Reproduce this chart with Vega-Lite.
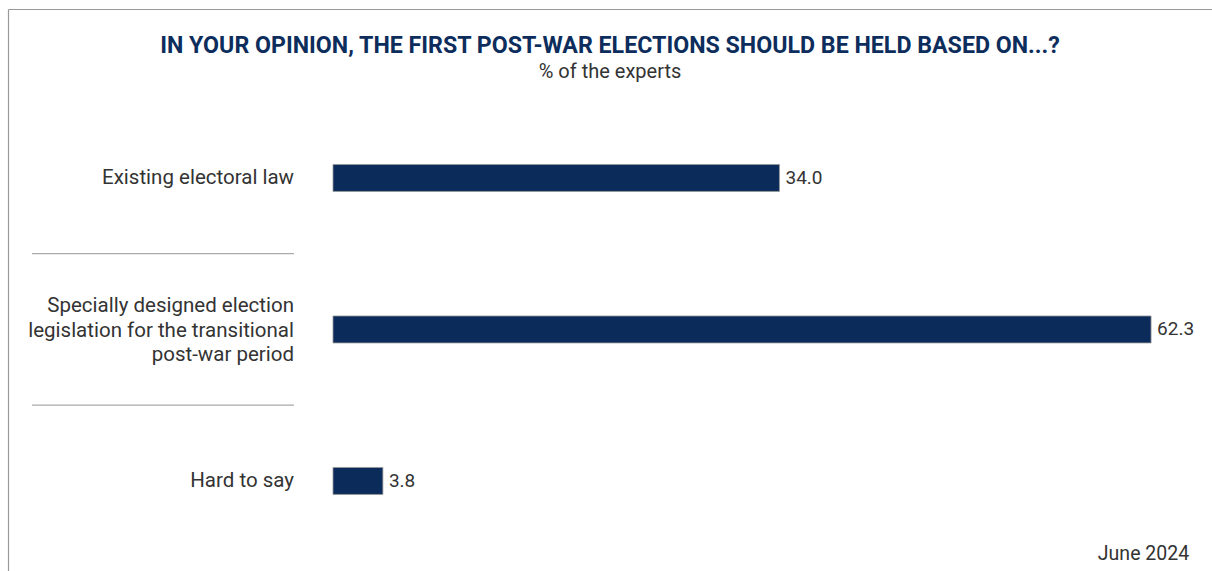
{
  "$schema": "https://vega.github.io/schema/vega-lite/v6.json",
  "width": 1204,
  "height": 562,
  "autosize": "none",
  "padding": {"left": 8, "top": 9, "right": 0, "bottom": 0},
  "background": "white",
  "config": {"view": {"stroke": null}, "font": "Roboto"},
  "title": {
    "text": "IN YOUR OPINION, THE FIRST POST-WAR ELECTIONS SHOULD BE HELD BASED ON...?",
    "subtitle": "% of the experts",
    "anchor": "middle",
    "frame": "group",
    "offset": -74,
    "font": "Roboto",
    "fontSize": 23.2,
    "fontWeight": "bold",
    "color": "#0d2d5c",
    "subtitleFont": "Roboto",
    "subtitleFontSize": 20,
    "subtitleColor": "#333333",
    "subtitlePadding": 4
  },
  "datasets": {
    "bars": [
      {"cat": "Existing electoral law", "value": 34.0, "label": "Existing electoral law", "lines": 1},
      {"cat": "Specially designed election legislation for the transitional post-war period", "value": 62.3, "label": "Specially designed election|legislation for the transitional|post-war period", "lines": 3},
      {"cat": "Hard to say", "value": 3.8, "label": "Hard to say", "lines": 1}
    ],
    "seps": [
      {"cat": "Specially designed election legislation for the transitional post-war period", "x1": -22.92, "x2": -2.97},
      {"cat": "Hard to say", "x1": -22.92, "x2": -2.97}
    ],
    "note": [
      {"cat": "Hard to say", "pos": 65.2, "text": "June 2024"}
    ]
  },
  "layer": [
    {
      "data": {"name": "bars"},
      "mark": {"type": "bar", "height": 27, "color": "#0b2c5a", "stroke": "#9a9a9a", "strokeWidth": 0.8},
      "encoding": {
        "y": {
          "field": "cat", "type": "nominal", "sort": null,
          "scale": {"paddingInner": 0, "paddingOuter": 0.3548, "align": 0.867},
          "axis": {"title": null, "labels": false, "ticks": false, "domain": true, "domainColor": "#999999", "domainWidth": 1.2}
        },
        "x": {
          "field": "value", "type": "quantitative",
          "scale": {"domain": [-24.75, 66.94], "nice": false, "zero": false},
          "axis": {"orient": "top", "title": null, "labels": false, "ticks": false, "grid": false, "domain": true, "domainColor": "#999999", "domainWidth": 1.2}
        },
        "x2": {"datum": 0}
      }
    },
    {
      "data": {"name": "bars"},
      "mark": {"type": "text", "align": "left", "baseline": "middle", "dx": 6, "fontSize": 19, "color": "#333333", "font": "Roboto"},
      "encoding": {
        "y": {"field": "cat", "type": "nominal", "sort": null},
        "x": {"field": "value", "type": "quantitative"},
        "text": {"field": "value", "type": "quantitative", "format": ".1f"}
      }
    },
    {
      "data": {"name": "bars"},
      "transform": [{"filter": "datum.lines == 1"}],
      "mark": {"type": "text", "align": "right", "baseline": "middle", "fontSize": 20.5, "color": "#333333", "font": "Roboto"},
      "encoding": {
        "y": {"field": "cat", "type": "nominal", "sort": null},
        "x": {"datum": -2.97},
        "text": {"field": "label"}
      }
    },
    {
      "data": {"name": "bars"},
      "transform": [{"filter": "datum.lines == 3"}],
      "mark": {"type": "text", "align": "right", "baseline": "middle", "dy": -23, "fontSize": 20.5, "lineHeight": 24.5, "lineBreak": "|", "color": "#333333", "font": "Roboto"},
      "encoding": {
        "y": {"field": "cat", "type": "nominal", "sort": null},
        "x": {"datum": -2.97},
        "text": {"field": "label"}
      }
    },
    {
      "data": {"name": "seps"},
      "mark": {"type": "rule", "color": "#aaaaaa", "strokeWidth": 1.2},
      "encoding": {
        "y": {"field": "cat", "type": "nominal", "sort": null, "bandPosition": 0},
        "x": {"field": "x1", "type": "quantitative"},
        "x2": {"field": "x2"}
      }
    },
    {
      "data": {"name": "note"},
      "mark": {"type": "text", "align": "right", "baseline": "middle", "dy": -3, "fontSize": 19.5, "color": "#333333", "font": "Roboto"},
      "encoding": {
        "y": {"field": "cat", "type": "nominal", "sort": null, "bandPosition": 1},
        "x": {"field": "pos", "type": "quantitative"},
        "text": {"field": "text"}
      }
    }
  ]
}
